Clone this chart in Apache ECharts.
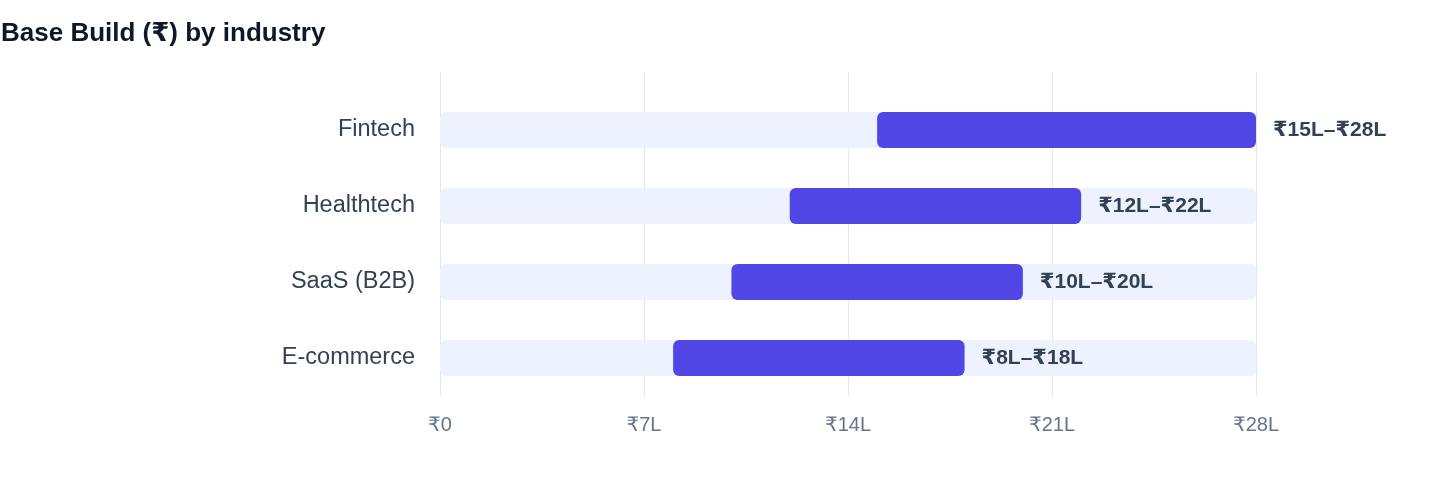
<!DOCTYPE html>
<html>
<head>
<meta charset="utf-8">
<script src="https://cdn.jsdelivr.net/npm/echarts@6/dist/echarts.min.js"></script>
<style>
  html, body { margin: 0; padding: 0; background: #fff; }
  #chart { width: 1440px; height: 484px; }
</style>
</head>
<body>
<div id="chart"></div>
<script>
const industries = ['Fintech', 'Healthtech', 'SaaS (B2B)', 'E-commerce'];
const lowValues = [15, 12, 10, 8];
const highValues = [28, 22, 20, 18];
const rangeLabels = ['₹15L–₹28L', '₹12L–₹22L', '₹10L–₹20L', '₹8L–₹18L'];
const axisMax = 28;
const axisStep = 7;

const fontFamily = 'Helvetica, Arial, "Liberation Sans", "DejaVu Sans", sans-serif';

const chart = echarts.init(document.getElementById('chart'));

const option = {
  animation: false,
  textStyle: { fontFamily: fontFamily },
  title: {
    text: 'Base Build (₹) by industry',
    left: 1,
    top: 21,
    padding: 0,
    textStyle: { fontSize: 26, fontWeight: 'bold', color: '#0f172a', fontFamily: fontFamily }
  },
  grid: [
    // grid for the vertical lines and tick labels
    { left: 440, right: 184, top: 72, bottom: 88 },
    // grid for the bars
    { left: 440, right: 184, top: 92, bottom: 88 }
  ],
  xAxis: [
    {
      gridIndex: 0,
      type: 'value',
      min: 0,
      max: axisMax,
      interval: axisStep,
      axisLine: { show: false },
      axisTick: { show: false },
      splitLine: { lineStyle: { color: '#e2e8f0', width: 1 } },
      axisLabel: {
        margin: 19,
        fontSize: 20,
        color: '#64748b',
        formatter: v => v === 0 ? '₹0' : '₹' + v + 'L'
      }
    },
    {
      gridIndex: 1,
      type: 'value',
      min: 0,
      max: axisMax,
      show: false
    }
  ],
  yAxis: [
    { gridIndex: 0, type: 'category', data: industries, show: false },
    {
      gridIndex: 1,
      type: 'category',
      data: industries,
      inverse: true,
      axisLine: { show: false },
      axisTick: { show: false },
      axisLabel: { margin: 25, fontSize: 23.5, color: '#334155', padding: [4, 0, 0, 0] }
    }
  ],
  series: [
    {
      type: 'bar',
      xAxisIndex: 1,
      yAxisIndex: 1,
      stack: 'range',
      barWidth: 36,
      data: lowValues,
      itemStyle: { color: 'transparent' },
      showBackground: true,
      backgroundStyle: { color: '#eef2ff', borderRadius: 6 },
      silent: true
    },
    {
      type: 'bar',
      xAxisIndex: 1,
      yAxisIndex: 1,
      stack: 'range',
      barWidth: 36,
      data: highValues.map((h, i) => h - lowValues[i]),
      itemStyle: { color: '#4f46e5', borderRadius: 6 },
      label: {
        show: true,
        position: 'right',
        distance: 17,
        fontSize: 21,
        fontWeight: 'bold',
        color: '#334155',
        padding: [2, 0, 0, 0],
        formatter: p => rangeLabels[p.dataIndex]
      }
    }
  ]
};

chart.setOption(option);
</script>
</body>
</html>
